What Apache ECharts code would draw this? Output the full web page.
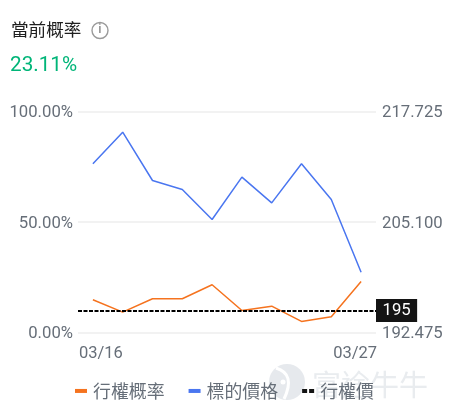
<!DOCTYPE html>
<html>
<head>
<meta charset="utf-8">
<style>html,body{margin:0;padding:0;background:#fff}#c{width:449px;height:418px}</style>
<script src="https://cdn.jsdelivr.net/npm/echarts@6/dist/echarts.min.js"></script>
</head>
<body>
<div id="c"></div>
<script>
const dates = ['03/16','03/17','03/18','03/19','03/20','03/23','03/24','03/25','03/26','03/27'];
const probability = [14.8,9.2,15.25,15.25,21.6,9.95,11.9,5.0,7.1,23.11];
const underlying = [211.75,215.36,209.84,208.81,205.39,210.22,207.29,211.75,207.67,199.36];
const strike = 195;
const leftTicks = [0,50,100];
const rightTicks = [192.475,205.1,217.725];
const titleText = '當前概率';
const currentText = '23.11%';
const seriesNames = ['行權概率','標的價格','行權價'];
const watermark = '富途牛牛';

const FONT = "Roboto, 'Noto Sans CJK TC', sans-serif";
const GREY = '#666e78';
const tickRich = {t:{fontSize:16.7,color:GREY,fontFamily:FONT,padding:[3,0,0,0]}};
const chart = echarts.init(document.getElementById('c'), null, {renderer:'canvas'});
chart.setOption({
  animation:false,
  backgroundColor:'#fff',
  textStyle:{fontFamily:FONT},
  graphic:[
    {type:'circle',z:-1,silent:true,shape:{cx:287,cy:382,r:18},style:{fill:'#e6e9ed'}},
    {type:'bezierCurve',z:-1,silent:true,shape:{x1:276,y1:368,cpx1:296,cpy1:374,x2:284,y2:399},style:{fill:'none',stroke:'#fff',lineWidth:3}},
    {type:'circle',z:-1,silent:true,shape:{cx:283,cy:382,r:2.5},style:{fill:'#fff'}},
    {type:'text',z:-1,silent:true,left:312,top:370,style:{text:watermark,font:"29px 'Noto Sans CJK TC'",fill:'#e9ecef'}},
    {type:'text',left:11,top:21,style:{text:titleText,font:"17.6px 'Noto Sans CJK TC'",fill:'#1f1f1f'}},
    {type:'circle',shape:{cx:100,cy:30.5,r:8},style:{fill:'none',stroke:'#9a9a9a',lineWidth:1.4}},
    {type:'text',left:98.2,top:24,style:{text:'i',font:"bold 12px Roboto",fill:'#9a9a9a'}},
    {type:'text',left:10,top:55,style:{text:currentText,font:"20.7px Roboto",fill:'#00b578'}}
  ],
  legend:{
    left:75,top:382,padding:0,itemWidth:12,itemHeight:4,itemGap:24,selectedMode:false,
    textStyle:{fontSize:17.9,color:GREY,fontFamily:"'Noto Sans CJK TC'",padding:[0,0,0,1]},
    data:[
      {name:seriesNames[0],icon:'rect'},
      {name:seriesNames[1],icon:'rect'},
      {name:seriesNames[2],icon:'path://M0 0H5V4H0ZM7 0H12V4H7Z'}
    ]
  },
  grid:{left:78,right:73,top:111.5,bottom:85.5},
  xAxis:{
    type:'category',data:dates,boundaryGap:true,
    axisLine:{show:false},axisTick:{show:false},
    axisLabel:{
      margin:13.5,interval:0,
      formatter:(v,i)=> i===0 ? '{a|'+v+'}' : i===dates.length-1 ? '{b|'+v+'}' : '',
      rich:{
        a:{fontSize:16.5,color:GREY,fontFamily:FONT,padding:[0,0,0,16]},
        b:{fontSize:16.5,color:GREY,fontFamily:FONT,padding:[0,12,0,0]}
      }
    }
  },
  yAxis:[
    {type:'value',min:0,max:100,interval:50,
      axisLine:{show:false},axisTick:{show:false},
      splitLine:{show:true,lineStyle:{color:'#f2f2f2',width:2}},
      axisLabel:{margin:5,customValues:leftTicks,rich:tickRich,formatter:v=>'{t|'+v.toFixed(2)+'%}'}},
    {type:'value',min:rightTicks[0],max:rightTicks[2],
      axisLine:{show:false},axisTick:{show:false},splitLine:{show:false},
      axisLabel:{margin:6,customValues:rightTicks,rich:tickRich,formatter:v=>'{t|'+v.toFixed(3)+'}'}}
  ],
  series:[
    {name:seriesNames[0],type:'line',yAxisIndex:0,data:probability,symbol:'none',lineStyle:{color:'#f5731f',width:1.5},itemStyle:{color:'#f5731f'},z:2},
    {name:seriesNames[1],type:'line',yAxisIndex:1,data:underlying,symbol:'none',lineStyle:{color:'#4a76f0',width:1.5},itemStyle:{color:'#4a76f0'},z:2},
    {name:seriesNames[2],type:'line',yAxisIndex:1,data:[],symbol:'none',itemStyle:{color:'#141414'},lineStyle:{color:'#141414'},z:3,
      markLine:{
        silent:true,symbol:'none',animation:false,
        lineStyle:{color:'#000',type:[4,1.5],width:2},
        label:{show:true,position:'end',distance:0,formatter:String(strike),color:'#fff',fontSize:16.7,fontFamily:FONT,
          backgroundColor:'#141414',padding:[3,6.5,3,6.5],lineHeight:17},
        data:[{yAxis:strike}]
      }}
  ]
});
</script>
</body>
</html>
